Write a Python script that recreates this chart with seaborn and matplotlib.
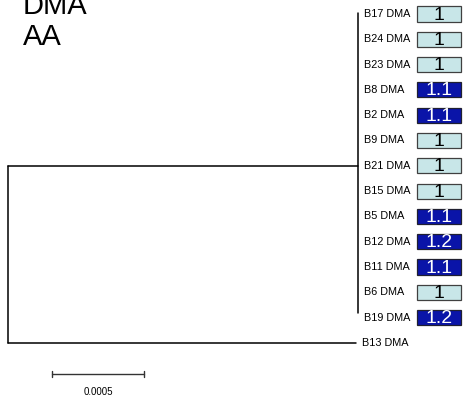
import numpy as np
import pandas as pd
import matplotlib
matplotlib.use('Agg')
import matplotlib.pyplot as plt
import seaborn as sns

# leaves top to bottom, the first 13 sit in one clade with zero-length tips
leaves = ['B17 DMA', 'B24 DMA', 'B23 DMA', 'B8 DMA', 'B2 DMA', 'B9 DMA', 'B21 DMA',
          'B15 DMA', 'B5 DMA', 'B12 DMA', 'B11 DMA', 'B6 DMA', 'B19 DMA', 'B13 DMA']
tip_len = [0, 0, 0, 0, 0, 0, 0, 0, 0, 0, 0, 0, 0, 0.00189]
clade_len = 0.0019
groups = ['1', '1', '1', '1.1', '1.1', '1', '1', '1', '1.1', '1.2', '1.1', '1', '1.2', None]
scale_len = 0.0005

sns.set_style('white')
plt.rcParams['font.family'] = ['Liberation Sans', 'DejaVu Sans']
plt.rcParams['text.color'] = 'black'

fig = plt.figure(figsize=(4.65, 3.99), dpi=100)
ax = fig.add_axes([0, 0, 1, 1])

# build branch segments
n_clade = 13
ys = np.arange(len(leaves))
clade_y = ys[:n_clade].mean()
segs = []
segs.append((0, 0, clade_y, ys[-1]))                     # root vertical
segs.append((1, 0, clade_y, clade_y))                    # root -> clade
segs.append((1, clade_len, clade_y, clade_y))
segs.append((2, clade_len, ys[0] - 0.05, ys[0] - 0.05))   # clade vertical
segs.append((2, clade_len, ys[n_clade - 1] - 0.2, ys[n_clade - 1] - 0.2))
segs.append((3, 0, ys[-1], ys[-1]))                      # root -> B13
segs.append((3, tip_len[-1], ys[-1], ys[-1]))
rows = []
for k, (u, x, y0, y1) in enumerate(segs):
    rows.append({'u': u, 'x': x, 'y': y0, 'o': 2 * k})
    if y0 != y1:
        rows.append({'u': u, 'x': x, 'y': y1, 'o': 2 * k + 1})
df = pd.DataFrame(rows)
sns.lineplot(data=df, x='x', y='y', units='u', estimator=None, sort=False,
             color='black', lw=1.1, ax=ax, legend=False)

# leaf labels
for i, name in enumerate(leaves):
    x = clade_len if i < n_clade else tip_len[i]
    ax.annotate(name, (x, ys[i]), xytext=(4.3, 0), textcoords='offset points',
                va='center', ha='left', fontsize=7.8, color='black')

# group boxes
px = 184000.0
bx = (417 - 8) / px
bw = 44 / px
for i, g in enumerate(groups):
    if g is None:
        continue
    dark = g != '1'
    ax.barh(ys[i], bw, left=bx, height=0.6,
            color='#0a14a8' if dark else '#c8e6e8',
            edgecolor='#202030' if dark else '#404040', lw=0.9)
    ax.text(bx + bw / 2, ys[i] + 0.04, g, ha='center', va='center', fontsize=14,
            color='white' if dark else 'black')

# scale bar
sy = (374 - 14) / 25.3
sx = 44 / px
ax.plot([sx, sx + scale_len], [sy, sy], color='#333333', lw=1)
for xx in [sx, sx + scale_len]:
    ax.plot([xx, xx], [sy - 0.12, sy + 0.12], color='#333333', lw=1)
ax.text(sx + scale_len / 2, sy + 0.5, '0.0005', ha='center', va='top', fontsize=7,
        color='black')

ax.set_xlim(-8 / px, (465 - 8) / px)
ax.set_ylim((399 - 14) / 25.3, -14 / 25.3)
ax.axis('off')

fig.text(23 / 465, 1 - 14 / 399, 'DMA', fontsize=21, va='baseline', ha='left',
         color='black')
fig.text(23 / 465, 1 - 45 / 399, 'AA', fontsize=21, va='baseline', ha='left',
         color='black')

fig.savefig('out.png', dpi=100)
